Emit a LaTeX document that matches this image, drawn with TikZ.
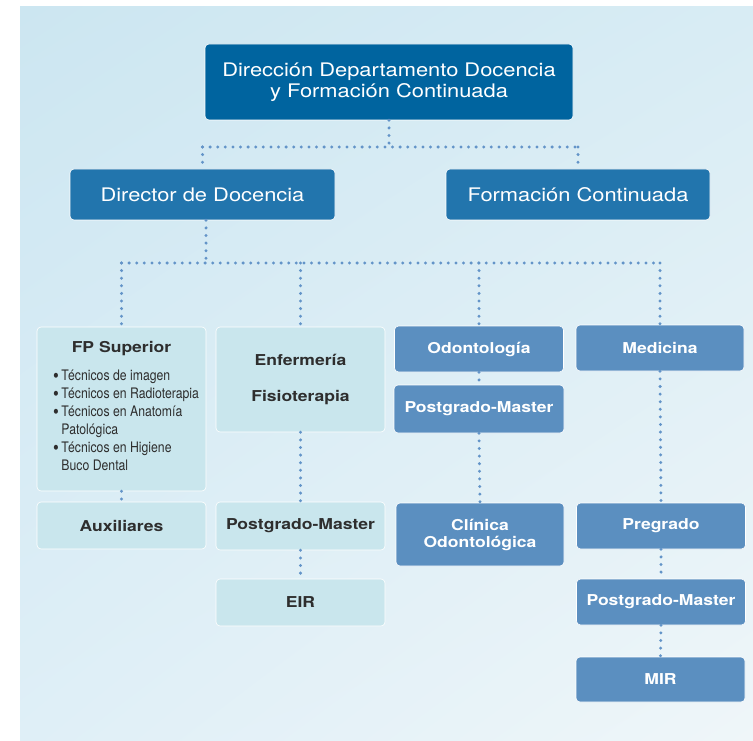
\documentclass[tikz,border=0pt]{standalone}
\usepackage{fontspec}
\setmainfont{TeX Gyre Heros}[FakeStretch=1.17]
\newfontfamily\narrowfont{TeX Gyre Heros}[FakeStretch=0.845]
\usetikzlibrary{shadings}

\definecolor{bgtl}{HTML}{CCE6F1}
\definecolor{bgtr}{HTML}{D8ECF4}
\definecolor{bgbl}{HTML}{DFEFF7}
\definecolor{bgbr}{HTML}{EFF6F9}
\definecolor{darkblue}{HTML}{00649F}
\definecolor{midblue}{HTML}{2275AD}
\definecolor{steel}{HTML}{5B8FC0}
\definecolor{lightcyan}{HTML}{C9E6ED}
\definecolor{darktext}{HTML}{2E2E2E}
\definecolor{dotblue}{HTML}{6394C8}

\newcommand{\bigbullet}{\raisebox{-1.3pt}{\scalebox{1.35}{\textbullet}}}

\tikzset{
	box/.style={draw=white, line width=0.6pt, rounded corners=4pt, inner sep=0pt, align=center},
	topbox/.style={box, fill=darkblue, text=white, font=\fontsize{18.7}{20.5}\selectfont},
	midbox/.style={box, fill=midblue, text=white, font=\fontsize{18.7}{20.5}\selectfont},
	steelbox/.style={box, fill=steel, text=white, font=\bfseries\fontsize{15}{17}\selectfont},
	lightbox/.style={box, fill=lightcyan, text=darktext, font=\bfseries\fontsize{15}{17}\selectfont},
	dotline/.style={draw=dotblue, line width=3.3pt, line cap=round, dash pattern=on 0pt off 7.6pt},
}

\begin{document}
\begin{tikzpicture}[x=1pt, y=-1pt]
				\useasboundingbox (0,0) rectangle (753,741);
				% Background
				\shade[upper left=bgtl, upper right=bgtr, lower left=bgbl, lower right=bgbr] (20,7) rectangle (753,741);

				% Direction
				\node[topbox, minimum width=368, minimum height=76] (dir) at (389,82) {Dirección Departamento Docencia\\y Formación Continuada};
				\node[midbox, minimum width=265, minimum height=51] (doc) at (202.5,194.5) {Director de Docencia};
				\node[midbox, minimum width=264, minimum height=51] (form) at (578,194.5) {Formación Continuada};

				% FP Superior
				\node[lightbox, minimum width=169, minimum height=164] (fp) at (121.5,409) {};
				\node[text=darktext, font=\bfseries\fontsize{15}{17}\selectfont] (fptitle) at (121.5,349) {FP Superior};
				\node[text=darktext, anchor=north west, inner sep=0pt, font=\narrowfont\fontsize{14.5}{18}\selectfont] (fplist) at (53,368) {%
					\begin{tabular}{@{}l@{\hspace{2.5pt}}l@{}}
						\bigbullet & Técnicos de imagen\\
						\bigbullet & Técnicos en Radioterapia\\
						\bigbullet & Técnicos en Anatomía\\
						& Patológica\\
						\bigbullet & Técnicos en Higiene\\
						& Buco Dental
					\end{tabular}};
				\node[lightbox, minimum width=169, minimum height=47] (aux) at (121.5,525.5) {Auxiliares};

				% Enfermeria
				\node[lightbox, minimum width=169, minimum height=105] (enf) at (300.5,379.5) {Enfermería\\[19pt]Fisioterapia};
				\node[lightbox, minimum width=169, minimum height=48] (pmenf) at (300.5,526) {Postgrado-Master};
				\node[lightbox, minimum width=169, minimum height=47] (eir) at (300.5,602.5) {EIR};

				% Odontologia
				\node[steelbox, minimum width=169, minimum height=46] (odon) at (479,349) {Odontología};
				\node[steelbox, minimum width=170, minimum height=48] (pmodon) at (479,409) {Postgrado-Master};
				\node[steelbox, minimum width=168, minimum height=63] (clin) at (480,534.5) {Clínica\\Odontológica};

				% Medicina
				\node[steelbox, minimum width=168, minimum height=46] (med) at (660,348) {Medicina};
				\node[steelbox, minimum width=169, minimum height=46] (preg) at (661,526) {Pregrado};
				\node[steelbox, minimum width=169, minimum height=46] (pmmed) at (661,602) {Postgrado-Master};
				\node[steelbox, minimum width=169, minimum height=45] (mir) at (660.5,679.5) {MIR};

				% Connectors
				\coordinate (busa) at (389,147);
				\coordinate (busb) at (206,263);
				\draw[dotline] (dir.south) -- (busa);
				\draw[dotline] (doc.north |- busa) -- (form.north |- busa);
				\draw[dotline] (doc.north |- busa) -- (doc.north);
				\draw[dotline] (form.north |- busa) -- (form.north);
				\draw[dotline] (busb |- doc.south) -- (busb);
				\draw[dotline] (fp.north |- busb) -- (med.north |- busb);
				\draw[dotline] (fp.north |- busb) -- (fp.north);
				\draw[dotline] (enf.north |- busb) -- (enf.north);
				\draw[dotline] (odon.north |- busb) -- (odon.north);
				\draw[dotline] (med.north |- busb) -- (med.north);
				\draw[dotline] (fp.south) -- (aux.north);
				\draw[dotline] (enf.south) -- (pmenf.north);
				\draw[dotline] (pmenf.south) -- (eir.north);
				\draw[dotline] (odon.south) -- (pmodon.north);
				\draw[dotline] (pmodon.south) -- (clin.north);
				\draw[dotline] (med.south) -- (preg.north);
				\draw[dotline] (preg.south) -- (pmmed.north);
				\draw[dotline] (pmmed.south) -- (mir.north);
\end{tikzpicture}
\end{document}
